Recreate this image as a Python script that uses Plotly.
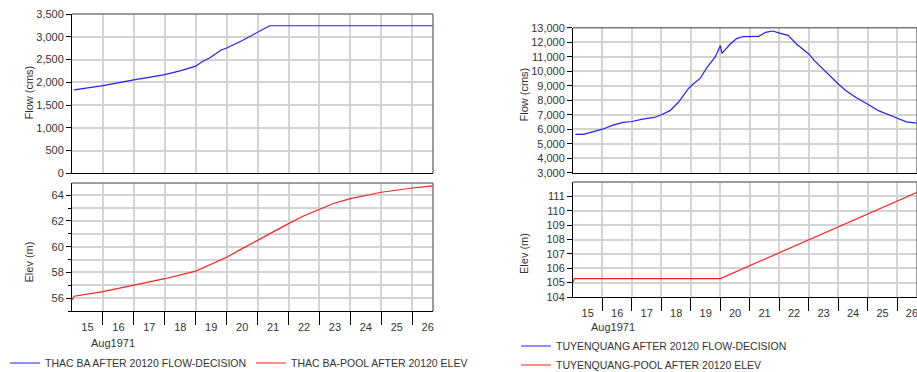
import plotly.graph_objects as go

# ---------------- data (day of Aug 1971, fractional) ----------------
thacba_flow_day = [15.07, 16.0, 17.0, 18.0, 18.52, 19.0, 19.18, 19.46, 19.82, 20.0, 20.49, 21.0, 21.39, 26.67]
thacba_flow = [1831, 1926, 2051, 2169, 2257, 2353, 2440, 2537, 2710, 2754, 2913, 3094, 3242, 3242]

thacba_elev_day = [15.0, 15.07, 16.0, 17.0, 18.0, 19.0, 19.5, 20.0, 20.5, 21.0, 21.5, 22.0, 22.5, 23.0,
                   23.45, 24.0, 25.0, 26.0, 26.67]
thacba_elev = [55.85, 56.15, 56.51, 57.03, 57.51, 58.10, 58.62, 59.18, 59.85, 60.51, 61.18, 61.79, 62.41,
               62.92, 63.36, 63.74, 64.23, 64.56, 64.72]

tq_flow_day = [15.08, 15.36, 16.0, 16.36, 16.7, 17.0, 17.36, 17.76, 18.0, 18.29, 18.57, 18.91, 19.09, 19.32,
               19.55, 19.83, 20.0, 20.05, 20.32, 20.55, 20.77, 21.0, 21.3, 21.53, 21.78, 22.0, 22.3, 22.58,
               23.0, 23.19, 23.47, 24.0, 24.26, 24.6, 25.0, 25.38, 25.73, 26.0, 26.31, 26.66]
tq_flow = [5650, 5650, 6000, 6280, 6470, 6530, 6700, 6810, 7000, 7280, 7840, 8790, 9140, 9520,
           10270, 11000, 11770, 11230, 11840, 12250, 12390, 12400, 12400, 12680, 12770, 12630, 12470, 11880,
           11190, 10730, 10160, 9120, 8650, 8180, 7720, 7260, 6980, 6770, 6510, 6420]

tq_elev_day = [15.0, 15.05, 20.0, 26.69]
tq_elev = [105.0, 105.28, 105.28, 111.3]

day_labels = ["15", "16", "17", "18", "19", "20", "21", "22", "23", "24", "25", "26"]
day_label_pos = [15.5 + i for i in range(len(day_labels))]
day_bounds = list(range(16, 27))
x_range = [15.0, 26.67]

W, H = 917, 372
FONT = "Liberation Sans, Arial, sans-serif"
TXT = "#333333"
GRID = "#d3d3d3"


def px_x(p):
    return p / W


def px_y(p):
    return 1 - p / H


fig = go.Figure()
fig.add_trace(go.Scatter(x=thacba_flow_day, y=thacba_flow, mode="lines", xaxis="x", yaxis="y",
                         line=dict(color="#2020ff", width=1.2), name="THAC BA AFTER 20120 FLOW-DECISION",
                         legend="legend"))
fig.add_trace(go.Scatter(x=thacba_elev_day, y=thacba_elev, mode="lines", xaxis="x2", yaxis="y2",
                         line=dict(color="#ff2020", width=1.2), name="THAC BA-POOL AFTER 20120 ELEV",
                         legend="legend"))
fig.add_trace(go.Scatter(x=tq_flow_day, y=tq_flow, mode="lines", xaxis="x3", yaxis="y3",
                         line=dict(color="#2020ff", width=1.2), name="TUYENQUANG AFTER 20120 FLOW-DECISION",
                         legend="legend2"))
fig.add_trace(go.Scatter(x=tq_elev_day, y=tq_elev, mode="lines", xaxis="x4", yaxis="y4",
                         line=dict(color="#ff2020", width=1.2), name="TUYENQUANG-POOL AFTER 20120 ELEV",
                         legend="legend2"))

L_dom = [px_x(72), px_x(433)]
R_dom = [px_x(573), 1.0]


def top_x(anchor, dom):
    return dict(domain=dom, anchor=anchor, range=x_range, showticklabels=False, tickvals=[],
                showgrid=False, zeroline=False, showline=True, linecolor="black", linewidth=1,
                minor=dict(tickvals=day_bounds, showgrid=True, gridcolor=GRID, gridwidth=2, ticks=""))


def bot_x(anchor, dom):
    return dict(domain=dom, anchor=anchor, range=x_range, tickvals=day_label_pos, ticktext=day_labels,
                ticks="", ticklabelstandoff=6, ticklabeloverflow="allow", showgrid=False, zeroline=False,
                showline=True, linecolor="black", linewidth=1, tickfont=dict(family=FONT, size=11, color=TXT),
                minor=dict(tickvals=day_bounds, showgrid=True, gridcolor=GRID, gridwidth=2,
                           ticks="outside", ticklen=13, tickcolor="black", tickwidth=1))


def y_ax(anchor, dom, rng, tickvals, minor_vals=None, fmt=None):
    d = dict(domain=dom, anchor=anchor, range=rng, tickvals=tickvals, ticks="outside", ticklen=5,
             tickcolor="black", showgrid=True, gridcolor=GRID, gridwidth=2, zeroline=False,
             showline=True, linecolor="black", linewidth=1,
             tickfont=dict(family=FONT, size=11, color=TXT))
    if fmt:
        d["tickformat"] = fmt
    if minor_vals:
        d["minor"] = dict(tickvals=minor_vals, showgrid=True, gridcolor=GRID, gridwidth=2,
                          ticks="outside", ticklen=3, tickcolor="black")
    return d


LEG_FONT = dict(family=FONT, size=10.5, color=TXT)

fig.update_layout(
    width=W, height=H, margin=dict(l=0, r=0, t=0, b=0, autoexpand=False),
    paper_bgcolor="white", plot_bgcolor="white",
    font=dict(family=FONT, size=11, color=TXT),
    xaxis=top_x("y", L_dom),
    yaxis=y_ax("x", [px_y(173.3), px_y(14)], [0, 3500], list(range(0, 3501, 500)), fmt=","),
    xaxis2=bot_x("y2", L_dom),
    yaxis2=y_ax("x2", [px_y(311), px_y(183)], [55, 64.95], [56, 58, 60, 62, 64],
                minor_vals=[55, 57, 59, 61, 63]),
    xaxis3=top_x("y3", R_dom),
    yaxis3=y_ax("x3", [px_y(172.7), px_y(27.7)], [3000, 13000], list(range(3000, 13001, 1000)), fmt=","),
    xaxis4=bot_x("y4", R_dom),
    yaxis4=y_ax("x4", [px_y(297), px_y(182)], [104, 112], list(range(104, 112))),
    legend=dict(orientation="h", x=px_x(5), y=px_y(363), xanchor="left", yanchor="middle",
                font=LEG_FONT, bgcolor="rgba(0,0,0,0)", itemwidth=30, tracegroupgap=0,
                entrywidth=201, entrywidthmode="pixels"),
    legend2=dict(orientation="v", x=px_x(516), y=px_y(355.5), xanchor="left", yanchor="middle",
                 font=LEG_FONT, bgcolor="rgba(0,0,0,0)", itemwidth=30, tracegroupgap=0),
    showlegend=True,
)

# grey top/right frame edges
for xa, ya in [("x", "y"), ("x2", "y2"), ("x3", "y3"), ("x4", "y4")]:
    fig.add_shape(type="line", xref=f"{xa} domain", yref=f"{ya} domain", x0=0, x1=1, y0=1, y1=1,
                  line=dict(color="#7a7a7a", width=1.5))
    fig.add_shape(type="line", xref=f"{xa} domain", yref=f"{ya} domain", x0=1, x1=1, y0=0, y1=1,
                  line=dict(color="#7a7a7a", width=1.5))

annos = [
    dict(text="Flow (cms)", x=px_x(28), y=px_y(92.5), textangle=-90),
    dict(text="Elev (m)", x=px_x(28), y=px_y(262.5), textangle=-90),
    dict(text="Flow (cms)", x=px_x(523.5), y=px_y(95), textangle=-90),
    dict(text="Elev (m)", x=px_x(524), y=px_y(254), textangle=-90),
]
for a in annos:
    fig.add_annotation(xref="paper", yref="paper", showarrow=False, xanchor="center", yanchor="middle",
                       font=dict(family=FONT, size=11, color=TXT), **a)
for xpos, ypos in [(89, 343), (589, 327)]:
    fig.add_annotation(text="Aug1971", xref="paper", yref="paper", x=px_x(xpos), y=px_y(ypos),
                       xanchor="left", yanchor="middle", showarrow=False,
                       font=dict(family=FONT, size=11, color=TXT))

fig.write_html("out.html", config={"displayModeBar": False},
               post_script="document.body.style.margin='0';document.body.style.overflow='hidden';")
